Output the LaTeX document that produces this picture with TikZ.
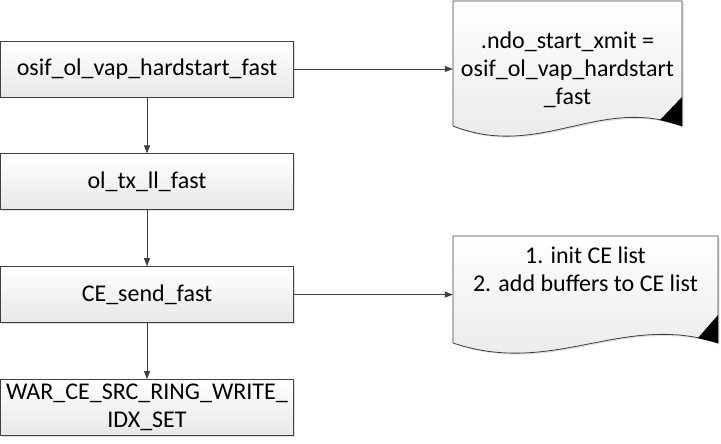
\documentclass[tikz,border=0pt]{standalone}
\usepackage{fontspec}
\setmainfont{Carlito}
\usetikzlibrary{arrows.meta, positioning, shadows}
\definecolor{myline}{RGB}{64,64,64}
\definecolor{myfill}{RGB}{232,232,232}

\begin{document}
\begin{tikzpicture}[x=1pt,y=1pt,
    func/.style={draw=myline, line width=0.8pt, top color=white, bottom color=myfill,
        minimum width=293pt, minimum height=56pt, inner sep=4pt, align=center,
        font=\fontsize{24}{28}\selectfont,
        drop shadow={shadow xshift=1.5pt, shadow yshift=-1.5pt, opacity=0.25}},
    notebox/.style={draw=myline, line width=0.8pt, top color=white, bottom color=myfill,
        drop shadow={shadow xshift=1.5pt, shadow yshift=-1.5pt, opacity=0.25}},
    notetext/.style={align=center, inner sep=0pt, font=\fontsize{24}{28}\selectfont},
    link/.style={draw=myline, line width=0.8pt, -{Triangle[length=8pt,width=6pt]}}]
    \useasboundingbox (0,0) rectangle (721,-444);

    % call chain
    \node[func] (hard) at (147,-69) {osif\_ol\_vap\_hardstart\_fast};
    \node[func, below=56pt of hard] (txll) {ol\_tx\_ll\_fast};
    \node[func, below=56pt of txll] (cesend) {CE\_send\_fast};
    \node[func, below=56pt of cesend] (war) {WAR\_CE\_SRC\_RING\_WRITE\_\\IDX\_SET};

    % note shapes (document with wavy bottom)
    \path[notebox] (453,-1) -- (682,-1) -- (682,-126)
        .. controls (600,-95) and (540,-160) .. (453,-126) -- cycle;
    \fill[black] (682,-97) -- (682,-126) -- (660,-120) -- cycle;
    \path[notebox] (453,-236) -- (718,-236) -- (718,-343)
        .. controls (623,-312) and (554,-377) .. (453,-343) -- cycle;
    \fill[black] (718,-315) -- (718,-343) -- (698,-338) -- cycle;

    % note texts
    \node[notetext, minimum width=229pt] (ndo) at (567.5,-70)
        {.ndo\_start\_xmit =\\osif\_ol\_vap\_hardstart\\\_fast};
    \node[notetext, minimum width=265pt] (celist) at (585.5,-269)
        {1. init CE list\\2. add buffers to CE list};

    % arrows
    \draw[link] (hard) -- (txll);
    \draw[link] (txll) -- (cesend);
    \draw[link] (cesend) -- (war);
    \draw[link] (hard.east) -- (hard.east -| ndo.west);
    \draw[link] (cesend.east) -- (cesend.east -| celist.west);
\end{tikzpicture}
\end{document}
